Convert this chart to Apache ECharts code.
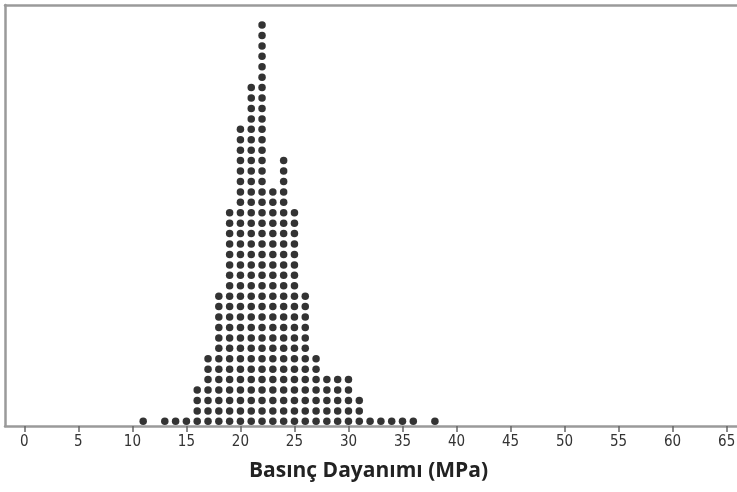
<!DOCTYPE html>
<html>
<head>
<meta charset="utf-8">
<script src="https://cdn.jsdelivr.net/npm/echarts@6/dist/echarts.min.js"></script>
<style>html,body{margin:0;padding:0;background:#fff}#c{width:737px;height:492px}</style>
</head>
<body>
<div id="c"></div>
<script>
// Dot plot: value (MPa) and number of stacked dots at that value
const values = [11, 13, 14, 15, 16, 17, 18, 19, 20, 21, 22, 23, 24, 25, 26, 27, 28, 29, 30, 31, 32, 33, 34, 35, 36, 38];
const counts = [1, 1, 1, 1, 4, 7, 13, 21, 29, 33, 39, 23, 26, 21, 13, 7, 5, 5, 5, 3, 1, 1, 1, 1, 1, 1];
const tickValues = [0, 5, 10, 15, 20, 25, 30, 35, 40, 45, 50, 55, 60, 65];
const axisTitle = 'Basınç Dayanımı (MPa)';

const points = [];
values.forEach((v, i) => {
  for (let k = 1; k <= counts[i]; k++) points.push([v, k]);
});

const chart = echarts.init(document.getElementById('c'));
chart.setOption({
  animation: false,
  backgroundColor: '#fff',
  title: {
    text: axisTitle,
    left: 'center',
    top: 456,
    textStyle: { fontFamily: 'Open Sans', fontWeight: 'bold', fontSize: 21, color: '#222' }
  },
  grid: {
    left: 5, top: 5, right: -8, bottom: 66,
    outerBoundsMode: 'none',
    containLabel: false,
    show: false
  },
  xAxis: [{
    type: 'value',
    min: -1.79, max: 66.7,
    splitLine: { show: false },
    axisLine: { show: true, onZero: false, lineStyle: { color: '#9a9a9a', width: 2.5 } },
    axisTick: { show: true, customValues: tickValues, length: 6, lineStyle: { color: '#666', width: 1.5 } },
    axisLabel: {
      customValues: tickValues, margin: 9,
      fontFamily: '"DejaVu Sans Condensed", "Open Sans", sans-serif', fontSize: 15, color: '#333'
    }
  }, {
    type: 'value', position: 'top',
    min: -1.79, max: 66.7,
    splitLine: { show: false },
    axisLine: { show: true, onZero: false, lineStyle: { color: '#9a9a9a', width: 2.5 } },
    axisTick: { show: false }, axisLabel: { show: false }
  }],
  yAxis: {
    type: 'value', min: 0.55, max: 40.92, position: 'left',
    splitLine: { show: false },
    axisLine: { show: true, onZero: false, lineStyle: { color: '#9a9a9a', width: 2.5 } },
    axisTick: { show: false }, axisLabel: { show: false }
  },
  series: [{
    type: 'scatter',
    data: points,
    symbol: 'circle',
    symbolSize: 7.5,
    itemStyle: { color: '#000' }
  }]
});
</script>
</body>
</html>
